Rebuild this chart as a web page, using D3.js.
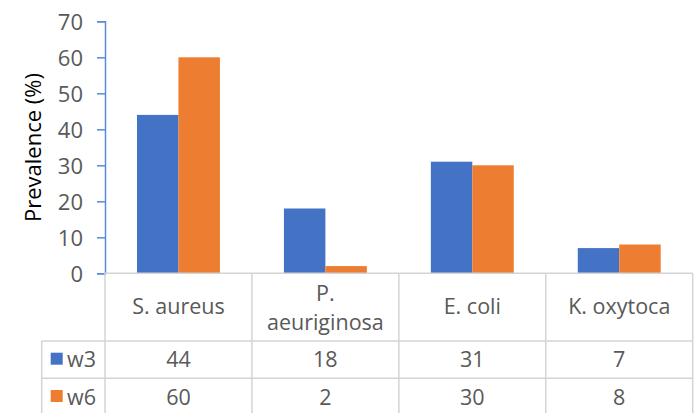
<!DOCTYPE html>
<meta charset="utf-8">
<style>
html, body { margin: 0; padding: 0; background: #fff; }
svg { display: block; }
svg text { font-family: "Open Sans", sans-serif; }
.grid { stroke: #d4d4d4; stroke-width: 1.5px; fill: none; }
</style>
<body><svg width="700" height="413"></svg></body>
<script src="https://d3js.org/d3.v7.min.js"></script>
<script>

var categories = ["S. aureus", "P. aeuriginosa", "E. coli", "K. oxytoca"];
var catLines = [["S. aureus"], ["P.", "aeuriginosa"], ["E. coli"], ["K. oxytoca"]];
var series = ["w3", "w6"];
var w3 = [44, 18, 31, 7];
var w6 = [60, 2, 30, 8];
var yTicks = [0, 10, 20, 30, 40, 50, 60, 70];
var colors = ["#4472C4", "#ED7D31"];

var svg = d3.select("svg");

var values = [w3, w6];

var x0 = d3.scaleBand()
    .domain(categories)
    .range([105, 692.7]);

var x1 = d3.scaleBand()
    .domain(series)
    .range([32, x0.bandwidth() - 32]);

var y = d3.scaleLinear()
    .domain([0, 70])
    .range([273.3, 21.3]);

// bars
categories.forEach(function(c, i) {
  series.forEach(function(s, j) {
    svg.append("rect")
        .attr("x", x0(c) + x1(s))
        .attr("y", y(values[j][i]))
        .attr("width", x1.bandwidth())
        .attr("height", y(0) - y(values[j][i]))
        .attr("fill", colors[j]);
  });
});

// y axis
var yAxis = svg.append("g")
    .attr("transform", "translate(105,0)")
    .call(d3.axisLeft(y).tickValues(yTicks).tickSize(8).tickFormat(d3.format("d")));
yAxis.select(".domain").attr("stroke", "#5b8bd9").attr("stroke-width", 1.5);
yAxis.selectAll(".tick line").attr("stroke", "#5b8bd9").attr("stroke-width", 1.5);
yAxis.selectAll(".tick text")
    .attr("x", -22)
    .attr("dy", "0.36em")
    .style("font-family", "'Open Sans', sans-serif")
    .style("font-size", "22px")
    .style("fill", "#595959");

svg.append("text")
    .attr("transform", "translate(33,147.5) rotate(-90)")
    .attr("text-anchor", "middle")
    .attr("dy", "0.35em")
    .style("font-size", "22px")
    .style("fill", "#000")
    .text("Prevalence (%)");

// data table
var tableTop = 273.3, row1 = 341, row2 = 378.3, tableBottom = 415.5, leftCol = 41.7;
var right = x0.range()[1];

var grid = svg.append("g").attr("class", "grid");
grid.append("line").attr("x1", 105).attr("x2", right).attr("y1", tableTop).attr("y2", tableTop);
[row1, row2, tableBottom].forEach(function(yy) {
  grid.append("line").attr("x1", leftCol).attr("x2", right).attr("y1", yy).attr("y2", yy);
});
grid.append("line").attr("x1", leftCol).attr("x2", leftCol).attr("y1", row1).attr("y2", tableBottom);
categories.concat([null]).forEach(function(c) {
  var xx = c === null ? right : x0(c);
  grid.append("line").attr("x1", xx).attr("x2", xx).attr("y1", tableTop).attr("y2", tableBottom);
});

function cell(x, yy, anchor) {
  return svg.append("text")
      .attr("x", x)
      .attr("y", yy)
      .attr("text-anchor", anchor)
      .style("font-size", "21.5px")
      .style("fill", "#595959");
}

// header cells
categories.forEach(function(c, i) {
  var lines = catLines[i];
  var cx = x0(c) + x0.bandwidth() / 2;
  var t = cell(cx, 0, "middle");
  var first = lines.length === 1 ? 314 : 300.5;
  lines.forEach(function(l, k) {
    t.append("tspan").attr("x", cx).attr("y", first + k * 29).text(l);
  });
});

// series rows
var rowBase = [367, 404.5];
var rowTop = [row1, row2];
series.forEach(function(s, j) {
  svg.append("rect")
      .attr("x", 50.7)
      .attr("y", rowTop[j] + 11.7)
      .attr("width", 12)
      .attr("height", 12)
      .attr("fill", colors[j]);
  cell(67, rowBase[j], "start").text(s);
  categories.forEach(function(c, i) {
    cell(x0(c) + x0.bandwidth() / 2, rowBase[j], "middle").text(values[j][i]);
  });
});

</script>
